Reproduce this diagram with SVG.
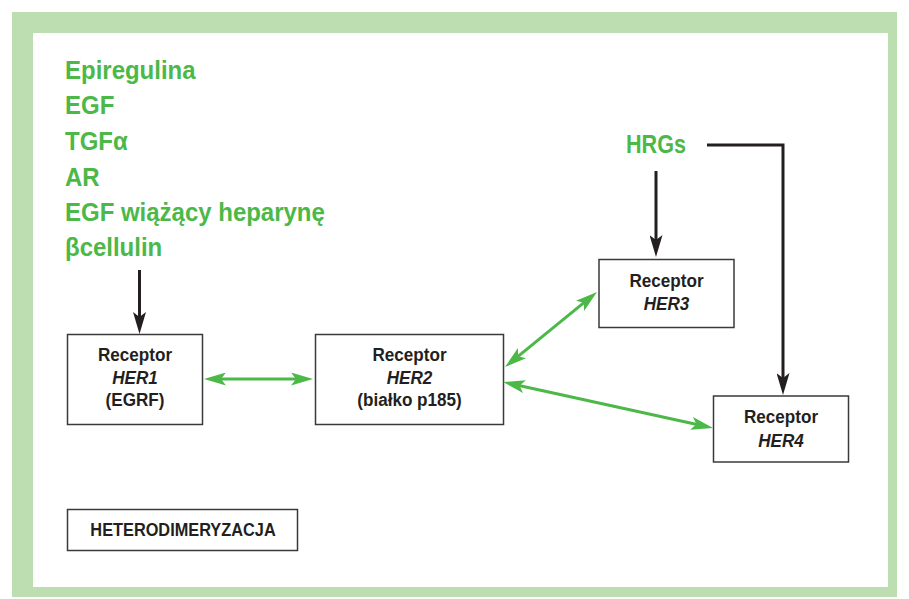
<svg xmlns="http://www.w3.org/2000/svg" width="909" height="599" viewBox="0 0 909 599">
  <style>
    .lig { font-family: "Liberation Sans", Arial, sans-serif; font-weight: bold; font-size: 26.5px; fill: #4cb848; }
    .box { fill: #ffffff; stroke: #3a3a3a; stroke-width: 1.5; }
    .lbl { font-family: "Liberation Sans", Arial, sans-serif; font-weight: bold; font-size: 19px; fill: #231f20; text-anchor: middle; }
    .it { font-style: italic; }
    .blk { fill: none; stroke: #231f20; stroke-width: 3; }
    .grn { fill: none; stroke: #4cb848; stroke-width: 3; }
  </style>
  <defs>
    <marker id="headBlack" viewBox="0 0 22 13" refX="15" refY="6.5" markerWidth="22" markerHeight="13" markerUnits="userSpaceOnUse" orient="auto-start-reverse">
      <path d="M0,0 L22,6.5 L0,13 L5,6.5 Z" fill="#231f20"/>
    </marker>
    <marker id="headGreen" viewBox="0 0 22 13" refX="15" refY="6.5" markerWidth="22" markerHeight="13" markerUnits="userSpaceOnUse" orient="auto-start-reverse">
      <path d="M0,0 L22,6.5 L0,13 L5,6.5 Z" fill="#4cb848"/>
    </marker>
  </defs>

  <!-- frame -->
  <rect x="0" y="0" width="909" height="599" fill="#ffffff"/>
  <rect x="12" y="12" width="885" height="585" fill="#bcdeb0"/>
  <rect x="33" y="33" width="855" height="554" fill="#ffffff"/>

  <!-- ligand list -->
  <g id="ligands">
    <text class="lig" transform="translate(65,78.5) scale(0.905,1)">Epiregulina</text>
    <text class="lig" transform="translate(65,114) scale(0.905,1)">EGF</text>
    <text class="lig" transform="translate(65,150) scale(0.905,1)">TGFα</text>
    <text class="lig" transform="translate(65,185.5) scale(0.905,1)">AR</text>
    <text class="lig" transform="translate(65,220.5) scale(0.905,1)">EGF wiążący heparynę</text>
    <text class="lig" transform="translate(65,256) scale(0.905,1)">βcellulin</text>
  </g>

  <g id="hrgs">
    <text class="lig" x="626" y="153" textLength="60" lengthAdjust="spacingAndGlyphs">HRGs</text>
  </g>

  <g id="her1">
    <rect class="box" x="67.5" y="334.5" width="135" height="90"/>
    <text class="lbl" transform="translate(135,360.5) scale(0.9,1)">Receptor</text>
    <text class="lbl it" transform="translate(135,384) scale(0.9,1)">HER1</text>
    <text class="lbl" transform="translate(135,406) scale(0.9,1)">(EGRF)</text>
  </g>

  <g id="her2">
    <rect class="box" x="315.5" y="334.5" width="188" height="90"/>
    <text class="lbl" transform="translate(409.5,360.5) scale(0.9,1)">Receptor</text>
    <text class="lbl it" transform="translate(409.5,384) scale(0.9,1)">HER2</text>
    <text class="lbl" transform="translate(409.5,406) scale(0.9,1)">(białko p185)</text>
  </g>

  <g id="her3">
    <rect class="box" x="599" y="259.5" width="135" height="68"/>
    <text class="lbl" transform="translate(666.5,286.5) scale(0.9,1)">Receptor</text>
    <text class="lbl it" transform="translate(666.5,310) scale(0.9,1)">HER3</text>
  </g>

  <g id="her4">
    <rect class="box" x="713.5" y="396" width="135" height="66"/>
    <text class="lbl" transform="translate(781,422.5) scale(0.9,1)">Receptor</text>
    <text class="lbl it" transform="translate(781,446.5) scale(0.9,1)">HER4</text>
  </g>

  <g id="heterodimer">
    <rect class="box" x="67.5" y="509.5" width="230" height="41"/>
    <text class="lbl" transform="translate(183,536) scale(0.86,1)">HETERODIMERYZACJA</text>
  </g>

  <g id="connectors">
    <line class="blk" x1="139.5" y1="270" x2="139.5" y2="327" marker-end="url(#headBlack)"/>
    <line class="blk" x1="656" y1="171" x2="656" y2="250" marker-end="url(#headBlack)"/>
    <path class="blk" d="M707,145 H783 V388" marker-end="url(#headBlack)"/>
    <line class="grn" x1="211" y1="379" x2="306" y2="379" marker-start="url(#headGreen)" marker-end="url(#headGreen)"/>
    <line class="grn" x1="510.4" y1="362.6" x2="591.6" y2="296.4" marker-start="url(#headGreen)" marker-end="url(#headGreen)"/>
    <line class="grn" x1="509.8" y1="383.5" x2="706.2" y2="426.5" marker-start="url(#headGreen)" marker-end="url(#headGreen)"/>
  </g>
</svg>
